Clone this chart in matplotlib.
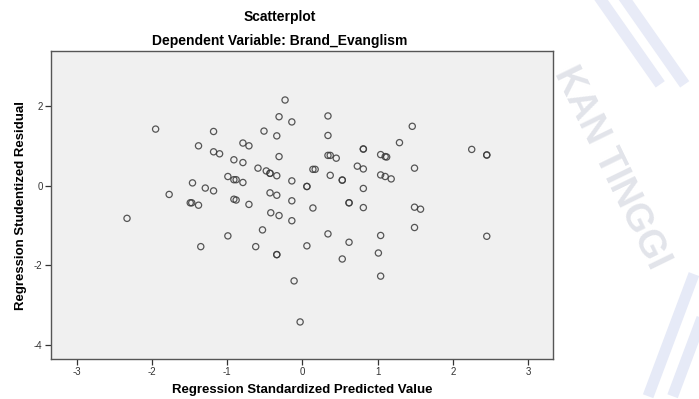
import matplotlib
matplotlib.use("Agg")
import matplotlib.pyplot as plt
import numpy as np

# Standardized predicted values (x) and studentized residuals (y)
pred_x = [-0.23, -1.95, -1.18, -0.31, -0.14, -0.51, -0.34, -1.38, -0.79, -0.71,
          -1.18, -1.10, -0.31, -0.91, -0.79, -0.59, -0.48, -0.43, -0.34, 0.14,
          0.17, -0.14, 0.06, -0.99, -0.91, -0.88, -0.79, -1.46, -1.29, -1.18,
          -1.77, -0.43, -0.34, -1.49, -1.47, -1.38, -0.91, -0.88, -0.71, -0.14,
          0.14, -2.33, -0.42, -0.31, -0.14, -0.53, -0.99, -1.35, -0.62, -0.34,
          0.06, -0.11, -0.03, 0.34, 0.34, 1.46, 1.29, 0.81, 0.34, 0.37,
          0.45, 1.04, 1.10, 1.12, 2.25, 2.45, 0.73, 0.81, 1.49, 0.37,
          0.53, 1.04, 1.10, 1.18, 0.81, 0.62, 0.81, 1.49, 1.57, 0.34,
          0.62, 1.04, 1.49, 2.45, 0.53, 1.01, 1.04,
          0.81, 2.45, 0.53, 0.06, 0.62, -0.34, -0.43]
resid_y = [2.15, 1.42, 1.36, 1.73, 1.60, 1.37, 1.25, 1.00, 1.07, 1.00,
           0.85, 0.80, 0.73, 0.65, 0.58, 0.44, 0.37, 0.31, 0.25, 0.41,
           0.41, 0.12, -0.02, 0.23, 0.15, 0.15, 0.08, 0.07, -0.06, -0.13,
           -0.22, -0.18, -0.24, -0.43, -0.43, -0.49, -0.34, -0.36, -0.47, -0.38,
           -0.56, -0.82, -0.68, -0.75, -0.88, -1.11, -1.26, -1.53, -1.53, -1.73,
           -1.51, -2.39, -3.42, 1.75, 1.26, 1.49, 1.08, 0.92, 0.76, 0.76,
           0.69, 0.78, 0.73, 0.72, 0.91, 0.77, 0.49, 0.42, 0.44, 0.26,
           0.14, 0.27, 0.23, 0.17, -0.07, -0.43, -0.55, -0.54, -0.59, -1.21,
           -1.42, -1.25, -1.05, -1.27, -1.84, -1.69, -2.27,
           0.92, 0.77, 0.14, -0.02, -0.43, -1.73, 0.31]

x_ticks = [-3, -2, -1, 0, 1, 2, 3]
y_ticks = [-4, -2, 0, 2]

title_text = "Scatterplot"
subtitle_text = "Dependent Variable: Brand_Evanglism"
x_label = "Regression Standardized Predicted Value"
y_label = "Regression Studentized Residual"

plt.rcParams['font.family'] = ['Liberation Sans', 'DejaVu Sans']

fig = plt.figure(figsize=(6.99, 3.99), dpi=100)
fig.patch.set_facecolor("white")

# faint watermark (background of the source document)
fig.text(0.875, 0.58, "KAN TINGGI", rotation=-64, fontsize=27, color="#e2e4ea",
         ha="center", va="center", fontweight="bold", zorder=0)
for dx in (0.0, 0.035):
    fig.add_artist(plt.Line2D([0.93 + dx, 0.99 + dx], [0.02, 0.30], color="#e6eaf7",
                              lw=8, transform=fig.transFigure, zorder=0))
    fig.add_artist(plt.Line2D([0.86 + dx, 0.94 + dx], [1.0, 0.80], color="#e8ebf7",
                              lw=8, transform=fig.transFigure, zorder=0))

ax = fig.add_axes([51 / 699, 1 - 359 / 399, (553 - 51) / 699, (359 - 51) / 399])
ax.set_facecolor("#f0f0f0")
ax.scatter(pred_x, resid_y, s=20, facecolors="none", edgecolors="#3a3a3a",
           linewidths=0.9, alpha=0.85, zorder=3)

ax.set_xlim(-3.34, 3.33)
ax.set_ylim(-4.35, 3.38)
ax.set_xticks(x_ticks)
ax.set_yticks(y_ticks)
ax.set_xticklabels([str(t) for t in x_ticks])
ax.set_yticklabels([str(t) for t in y_ticks])
ax.tick_params(axis="both", direction="out", length=4, width=0.9, labelsize=7,
               colors="#333333", pad=2)
for sp in ax.spines.values():
    sp.set_color("#555555")
    sp.set_linewidth(1.0)

ax.set_xlabel(x_label, fontsize=9.5, fontweight="bold", labelpad=5)
ax.set_ylabel(y_label, fontsize=9.5, fontweight="bold", labelpad=5)

fig.text(280 / 699, 1 - 17 / 399, title_text, fontsize=10, fontweight="bold",
         ha="center", va="center")
fig.text(280 / 699, 1 - 41.5 / 399, subtitle_text, fontsize=10, fontweight="bold",
         ha="center", va="center")

fig.savefig("out.png", dpi=100, facecolor="white")
